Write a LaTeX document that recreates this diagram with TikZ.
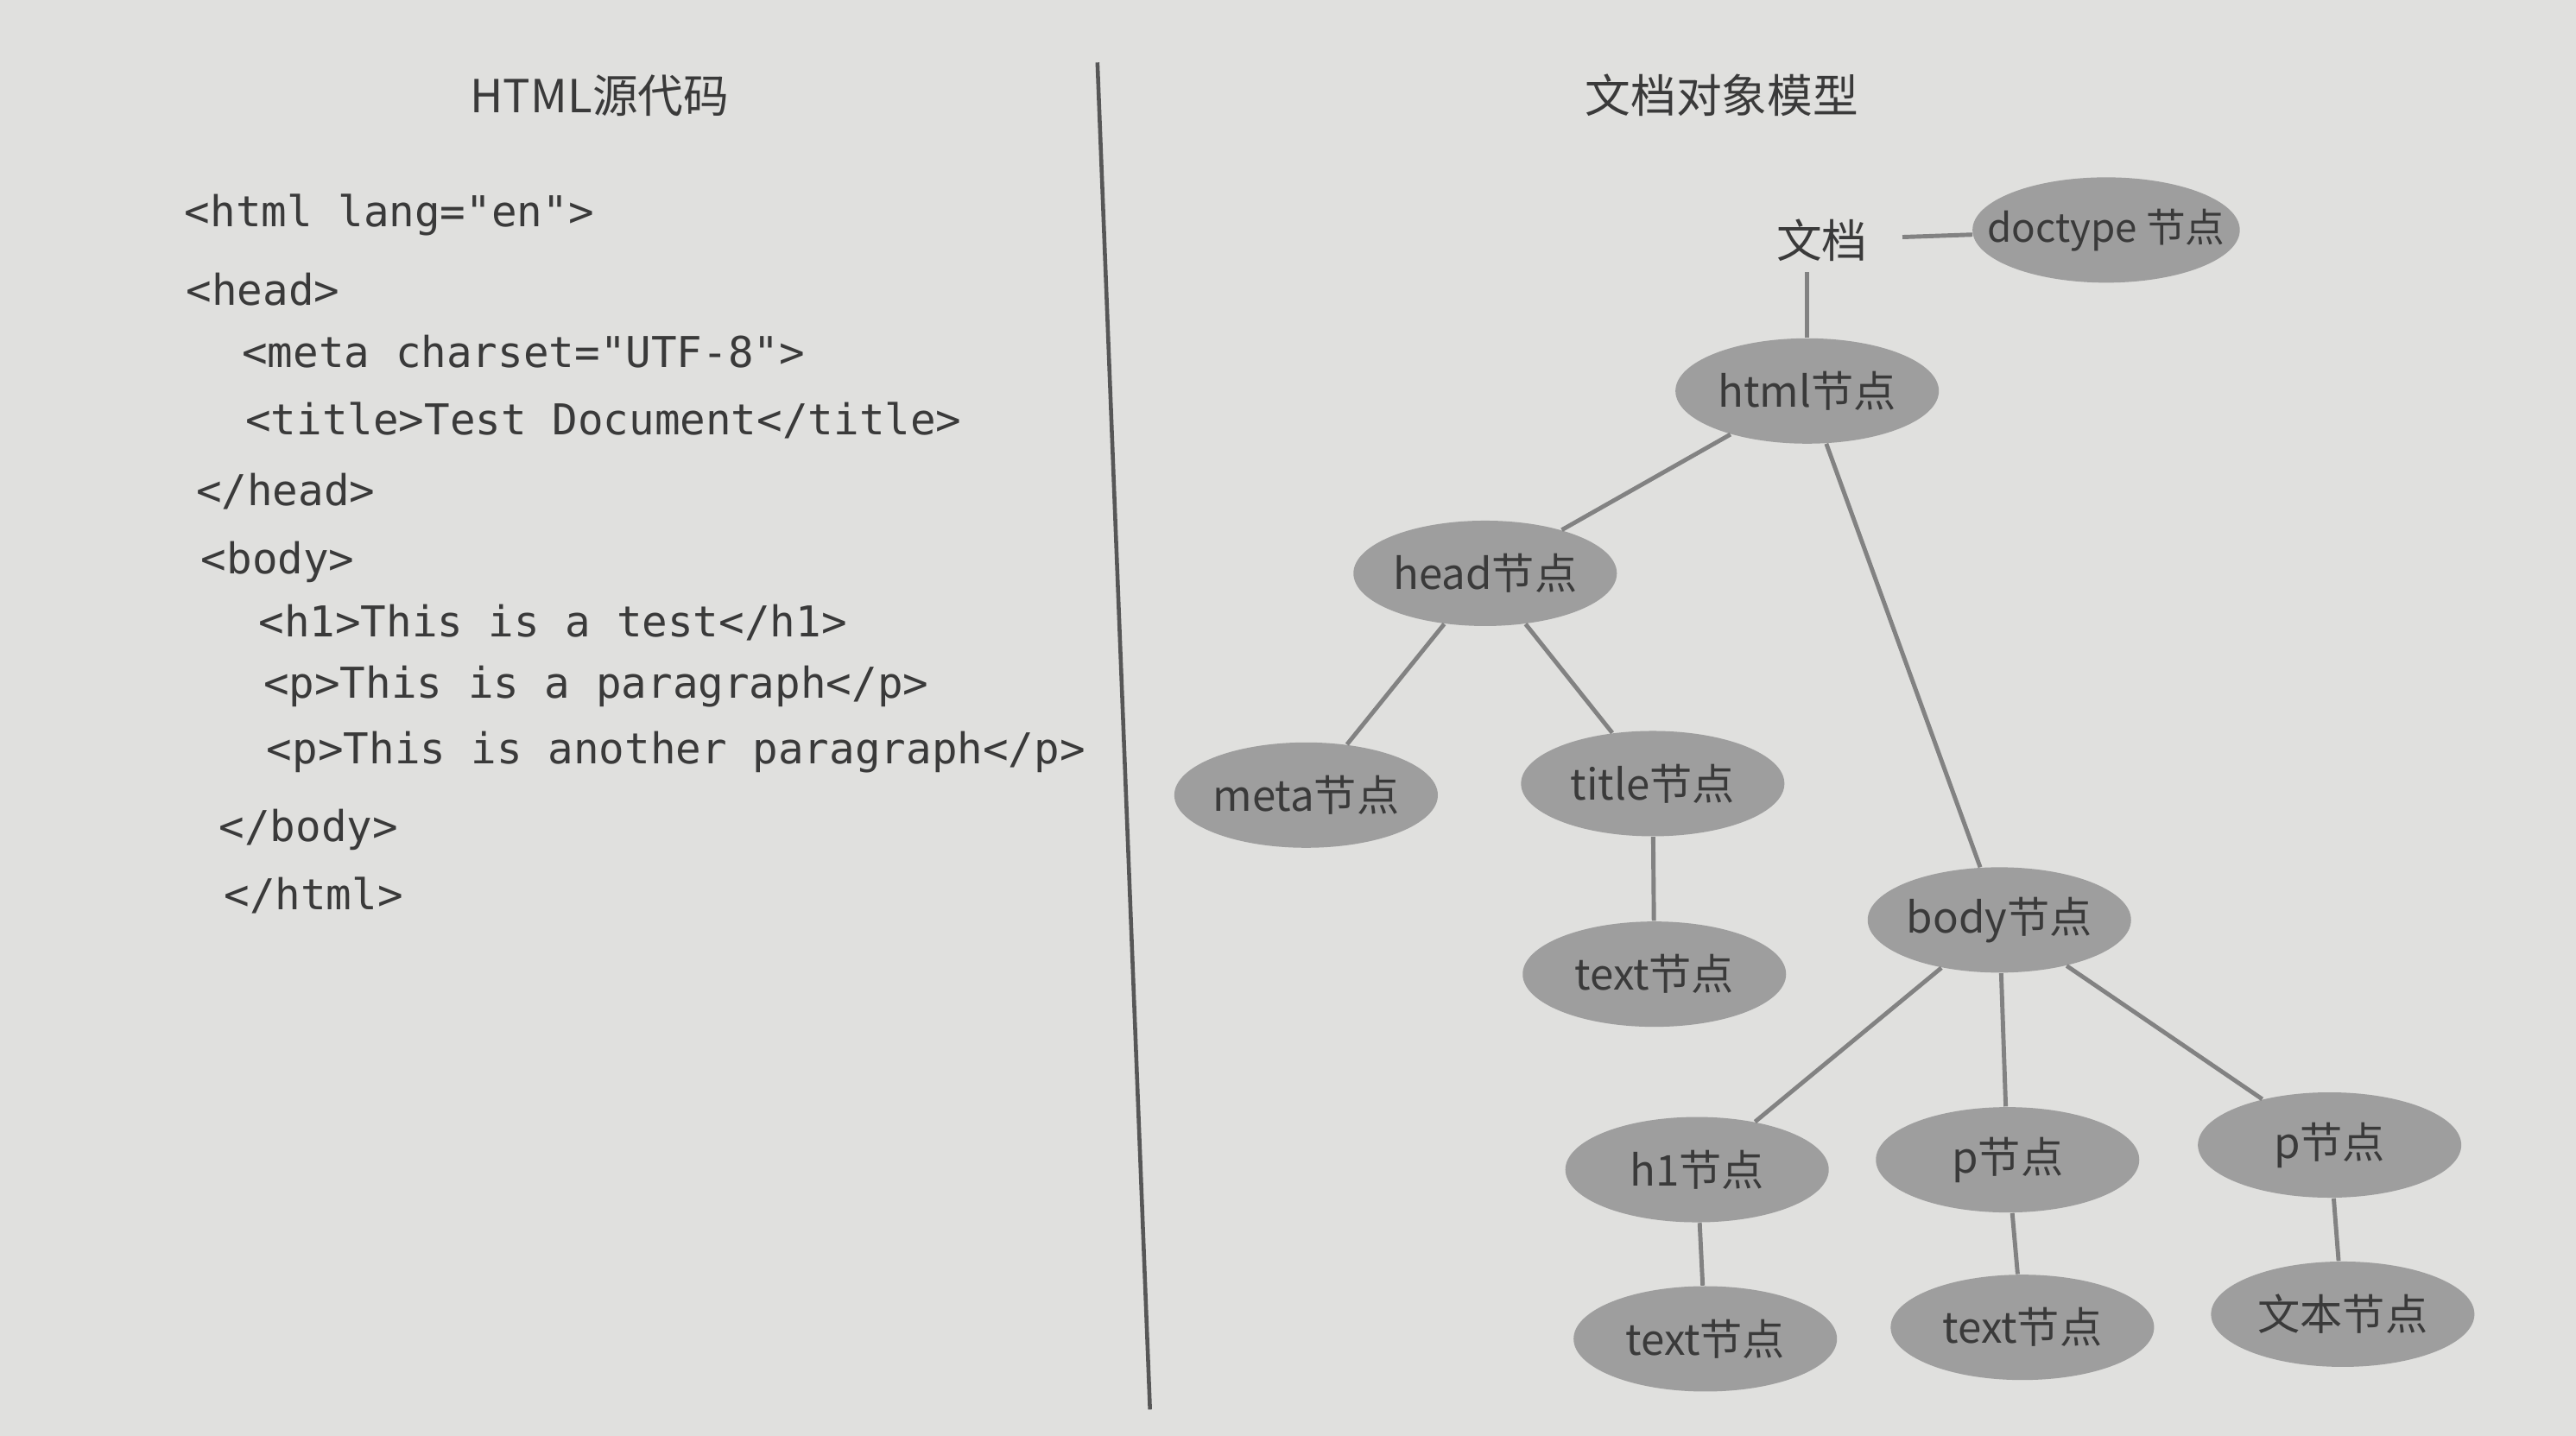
\documentclass[tikz,border=0pt]{standalone}
\usepackage{fontspec}
\setmonofont{DejaVu Sans Mono}
\newfontfamily\cjk{Noto Sans CJK SC}
\usepackage{xcolor}
\usetikzlibrary{shapes.geometric}
\definecolor{paper}{HTML}{E0E0DE}
\definecolor{ink}{HTML}{3A3A3A}
\definecolor{nodegray}{HTML}{9E9E9E}
\definecolor{edgegray}{HTML}{828282}

\begin{document}
\begin{tikzpicture}[x=1.9024cm,y=-1.9024cm,
  every node/.style={text=ink},
  domnode/.style={ellipse,fill=nodegray,inner sep=0pt,minimum width=3.05cm,minimum height=1.22cm,font=\cjk\fontsize{14}{17}\selectfont},
  codeline/.style={anchor=west,inner sep=0pt,font=\ttfamily\fontsize{14}{17}\selectfont},
  heading/.style={font=\cjk\fontsize{15}{18}\selectfont},
  edge/.style={draw=edgegray,line width=1.4pt}]
\fill[paper] (0,0) rectangle (15.68,8.74);
\draw[ink!85,line width=1.3pt] (6.68,0.38) -- (7.00,8.58);
% left: source
\node[heading] (srctitle) at (3.65,0.58) {HTML源代码};
\node[codeline] (c1) at (1.12,1.31) {<html lang="en">};
\node[codeline] (c2) at (1.13,1.76) {<head>};
\node[codeline] (c3) at (1.47,2.14) {<meta charset="UTF-8">};
\node[codeline] (c4) at (1.49,2.56) {<title>Test Document</title>};
\node[codeline] (c5) at (1.19,2.99) {</head>};
\node[codeline] (c6) at (1.22,3.42) {<body>};
\node[codeline] (c7) at (1.57,3.79) {<h1>This is a test</h1>};
\node[codeline] (c8) at (1.60,4.18) {<p>This is a paragraph</p>};
\node[codeline] (c9) at (1.62,4.58) {<p>This is another paragraph</p>};
\node[codeline] (c10) at (1.33,5.05) {</body>};
\node[codeline] (c11) at (1.36,5.45) {</html>};
% right: DOM tree
\node[heading] (domtitle) at (10.48,0.58) {文档对象模型};
\node[heading] (doc) at (11.09,1.46) {文档};
\node[domnode,inner xsep=-8pt,font=\cjk\fontsize{13}{16}\selectfont] (doctype) at (12.82,1.40) {doctype 节点};
\node[domnode] (html) at (11.00,2.38) {html节点};
\node[domnode] (head) at (9.04,3.49) {head节点};
\node[domnode] (meta) at (7.95,4.84) {meta节点};
\node[domnode] (title) at (10.06,4.77) {title节点};
\node[domnode] (titletext) at (10.07,5.93) {text节点};
\node[domnode] (body) at (12.17,5.60) {body节点};
\node[domnode] (h1) at (10.33,7.12) {h1节点};
\node[domnode] (pa) at (12.22,7.06) {p节点};
\node[domnode] (pb) at (14.18,6.97) {p节点};
\node[domnode] (h1text) at (10.38,8.15) {text节点};
\node[domnode] (patext) at (12.31,8.08) {text节点};
\node[domnode] (pbtext) at (14.26,8.00) {文本节点};
\draw[edge,shorten <=8pt] (doc) -- (doctype);
\draw[edge] (html.north) -- (html.north |- doc.south);
\draw[edge] (html) -- (head);
\draw[edge] (html) -- (body);
\draw[edge] (head) -- (meta);
\draw[edge] (head) -- (title);
\draw[edge] (title) -- (titletext);
\draw[edge] (body) -- (h1);
\draw[edge] (body) -- (pa);
\draw[edge] (body) -- (pb);
\draw[edge] (h1) -- (h1text);
\draw[edge] (pa) -- (patext);
\draw[edge] (pb) -- (pbtext);
\end{tikzpicture}
\end{document}
